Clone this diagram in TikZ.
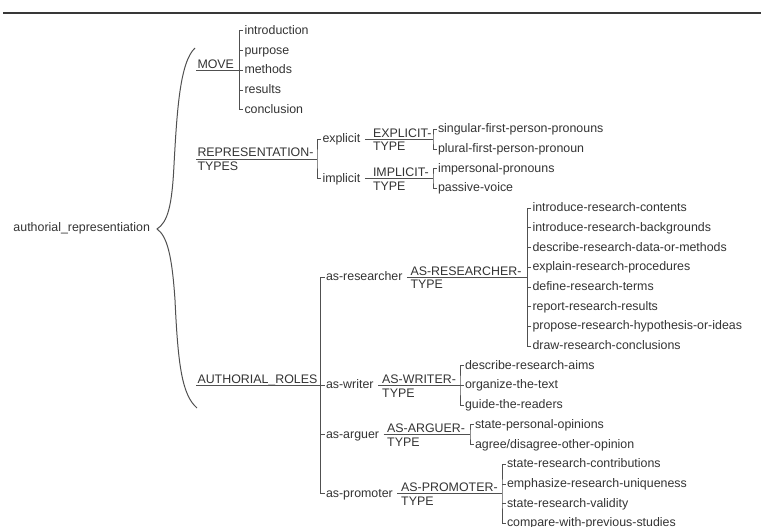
\documentclass[tikz,border=0pt]{standalone}
\usepackage{fontspec}
\setmainfont{Liberation Sans}

\definecolor{inkgray}{RGB}{51,51,51}
\definecolor{linegray}{RGB}{80,80,80}

\tikzset{every picture/.style={line width=0.75pt}}
\tikzset{
	leafnode/.style={anchor=west, inner sep=0.75pt, text height=7pt, text depth=2pt, text=inkgray, font=\fontsize{9.3}{11}\selectfont},
	catnode/.style={anchor=base west, inner sep=0.75pt, text=inkgray, font=\fontsize{9.3}{11}\selectfont},
	treeline/.style={draw=linegray, line width=0.75pt},
}

\begin{document}
\begin{tikzpicture}[x=0.75pt,y=0.75pt,yscale=-1,xscale=1]
		\useasboundingbox (0,0) rectangle (761,527);
		
		%Shape: Top rule
		\draw [draw=linegray!70!black, line width=1.5pt] (3,13) -- (761,13) ;
		
		%Root
		\node [leafnode] (root) at (12,228) {authorial\_representiation};
		%Shape: Brace
		\draw [treeline] (195,48) .. controls (180,62) and (177,110) .. (174,165) .. controls (172,205) and (168,222) .. (157,229) .. controls (167,236) and (172,255) .. (175,300) .. controls (178,365) and (182,395) .. (197,408) ;
		
		%Group: MOVE
		\node [catnode] (moveUp) at (196,68.3) {MOVE};
		\node [leafnode] (intro) at (243,31) {introduction};
		\node [leafnode] (purpose) at (243,50.7) {purpose};
		\node [leafnode] (methods) at (243,70.4) {methods};
		\node [leafnode] (results) at (243,90.1) {results};
		\node [leafnode] (concl) at (243,109.8) {conclusion};
		\coordinate (moveB) at (239.5,70.4);
		\draw [treeline] (moveUp.west |- methods.west) -- (methods.west) ;
		\draw [treeline] (intro.west) -| (moveB) |- (concl.west) ;
		\draw [treeline] (purpose.west) -- (purpose.west -| moveB) ;
		\draw [treeline] (results.west) -- (results.west -| moveB) ;
		
		%Group: REPRESENTATION-TYPES
		\node [catnode] (reprUp) at (196,157) {REPRESENTATION-};
		\node [catnode] (reprLow) at (196,170.8) {TYPES};
		\node [leafnode] (explicit) at (321,139.35) {explicit};
		\node [leafnode] (implicit) at (321,178.75) {implicit};
		\coordinate (reprB) at (317,159.05);
		\draw [treeline] (reprUp.west |- reprB) -- (reprB) ;
		\draw [treeline] (explicit.west) -| (reprB) |- (implicit.west) ;
		
		%Group: EXPLICIT-TYPE
		\node [catnode] (explicitUp) at (371.5,137.3) {EXPLICIT-};
		\node [catnode] (explicitLow) at (371.5,151) {TYPE};
		\node [leafnode] (singular) at (436.5,129.5) {singular-first-person-pronouns};
		\node [leafnode] (plural) at (436.5,149.2) {plural-first-person-pronoun};
		\coordinate (explicitB) at (433,139.35);
		\draw [treeline, shorten <=2.25pt] (explicit.east) -- (explicitB) ;
		\draw [treeline] (singular.west) -| (explicitB) |- (plural.west) ;
		
		%Group: IMPLICIT-TYPE
		\node [catnode] (implicitUp) at (371.5,176.7) {IMPLICIT-};
		\node [catnode] (implicitLow) at (371.5,190.4) {TYPE};
		\node [leafnode] (impersonal) at (436.5,168.9) {impersonal-pronouns};
		\node [leafnode] (passive) at (436.5,188.6) {passive-voice};
		\coordinate (implicitB) at (433,178.75);
		\draw [treeline, shorten <=2.25pt] (implicit.east) -- (implicitB) ;
		\draw [treeline] (impersonal.west) -| (implicitB) |- (passive.west) ;
		
		%Group: AUTHORIAL_ROLES
		\node [catnode] (rolesUp) at (196,383.5) {AUTHORIAL\_ROLES};
		\node [leafnode] (asResearcher) at (324.5,277.25) {as-researcher};
		\node [leafnode] (asWriter) at (324.5,385.6) {as-writer};
		\node [leafnode] (asArguer) at (324.5,434.85) {as-arguer};
		\node [leafnode] (asPromoter) at (324.5,493.95) {as-promoter};
		\coordinate (rolesB) at (320.5,385.6);
		\draw [treeline] (rolesUp.west |- asWriter.west) -- (asWriter.west) ;
		\draw [treeline] (asResearcher.west) -| (rolesB) |- (asPromoter.west) ;
		\draw [treeline] (asArguer.west) -- (asArguer.west -| rolesB) ;
		
		%Group: AS-RESEARCHER-TYPE
		\node [catnode] (researcherUp) at (409,275.2) {AS-RESEARCHER-};
		\node [catnode] (researcherLow) at (409,289) {TYPE};
		\node [leafnode] (introContents) at (531,208.3) {introduce-research-contents};
		\node [leafnode] (introBackgrounds) at (531,228) {introduce-research-backgrounds};
		\node [leafnode] (describeData) at (531,247.7) {describe-research-data-or-methods};
		\node [leafnode] (explainProc) at (531,267.4) {explain-research-procedures};
		\node [leafnode] (defineTerms) at (531,287.1) {define-research-terms};
		\node [leafnode] (reportResults) at (531,306.8) {report-research-results};
		\node [leafnode] (proposeIdeas) at (531,326.5) {propose-research-hypothesis-or-ideas};
		\node [leafnode] (drawConcl) at (531,346.2) {draw-research-conclusions};
		\coordinate (researcherB) at (527.5,277.25);
		\draw [treeline, shorten <=2.25pt] (asResearcher.east) -- (researcherB) ;
		\draw [treeline] (introContents.west) -| (researcherB) |- (drawConcl.west) ;
		\draw [treeline] (introBackgrounds.west) -- (introBackgrounds.west -| researcherB) ;
		\draw [treeline] (describeData.west) -- (describeData.west -| researcherB) ;
		\draw [treeline] (explainProc.west) -- (explainProc.west -| researcherB) ;
		\draw [treeline] (defineTerms.west) -- (defineTerms.west -| researcherB) ;
		\draw [treeline] (reportResults.west) -- (reportResults.west -| researcherB) ;
		\draw [treeline] (proposeIdeas.west) -- (proposeIdeas.west -| researcherB) ;
		
		%Group: AS-WRITER-TYPE
		\node [catnode] (writerUp) at (380.7,383.5) {AS-WRITER-};
		\node [catnode] (writerLow) at (380.7,397.3) {TYPE};
		\node [leafnode] (describeAims) at (463.5,365.9) {describe-research-aims};
		\node [leafnode] (organizeText) at (463.5,385.6) {organize-the-text};
		\node [leafnode] (guideReaders) at (463.5,405.3) {guide-the-readers};
		\coordinate (writerB) at (460,385.6);
		\draw [treeline, shorten <=2.25pt] (asWriter.east) -- (organizeText.west) ;
		\draw [treeline] (describeAims.west) -| (writerB) |- (guideReaders.west) ;
		
		%Group: AS-ARGUER-TYPE
		\node [catnode] (arguerUp) at (385.7,432.8) {AS-ARGUER-};
		\node [catnode] (arguerLow) at (385.7,446.5) {TYPE};
		\node [leafnode] (statePersonal) at (473.5,425) {state-personal-opinions};
		\node [leafnode] (agreeOther) at (473.5,444.7) {agree/disagree-other-opinion};
		\coordinate (arguerB) at (470,434.85);
		\draw [treeline, shorten <=2.25pt] (asArguer.east) -- (arguerB) ;
		\draw [treeline] (statePersonal.west) -| (arguerB) |- (agreeOther.west) ;
		
		%Group: AS-PROMOTER-TYPE
		\node [catnode] (promoterUp) at (399.7,491.9) {AS-PROMOTER-};
		\node [catnode] (promoterLow) at (399.7,505.6) {TYPE};
		\node [leafnode] (stateContrib) at (505.5,464.4) {state-research-contributions};
		\node [leafnode] (emphasizeUniq) at (505.5,484.1) {emphasize-research-uniqueness};
		\node [leafnode] (stateValidity) at (505.5,503.8) {state-research-validity};
		\node [leafnode] (compareStudies) at (505.5,523.5) {compare-with-previous-studies};
		\coordinate (promoterB) at (502,493.95);
		\draw [treeline, shorten <=2.25pt] (asPromoter.east) -- (promoterB) ;
		\draw [treeline] (stateContrib.west) -| (promoterB) |- (compareStudies.west) ;
		\draw [treeline] (emphasizeUniq.west) -- (emphasizeUniq.west -| promoterB) ;
		\draw [treeline] (stateValidity.west) -- (stateValidity.west -| promoterB) ;
		
\end{tikzpicture}
\end{document}
